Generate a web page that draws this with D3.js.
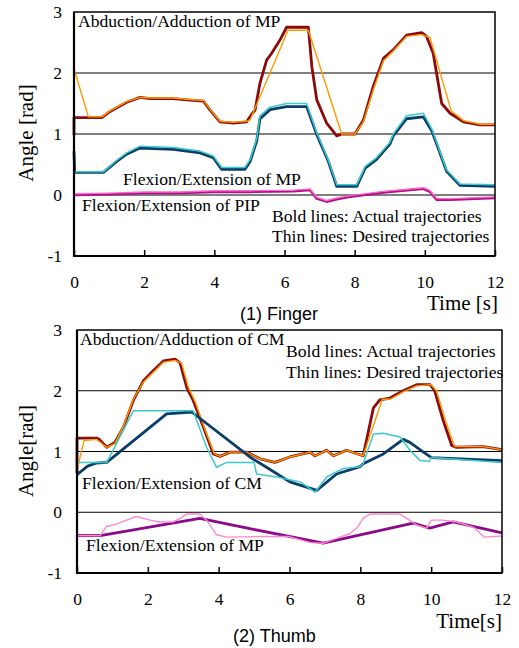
<!DOCTYPE html>
<html>
<head>
<meta charset="utf-8">
<script src="https://cdn.jsdelivr.net/npm/d3@7"></script>
<style>
  body { margin: 0; background: #fff; }
  svg text { font-family: "Liberation Serif", "Times New Roman", serif; fill: #000; }
  svg text.caption { font-family: "Liberation Sans", Arial, sans-serif; }
</style>
</head>
<body>
<svg id="chart" width="519" height="648"></svg>
<script>
(function() {
  'use strict';

  var timeTicks = [0, 2, 4, 6, 8, 10, 12];
  var angleTicks = [-1, 0, 1, 2, 3];
  var gridValues = [0, 1, 2];

  // (1) Finger: [time s, angle rad]
  var fingerAbdActual = [[0,0.98],[0,1.27],[0.4,1.27],[0.79,1.27],[1.03,1.37],[1.5,1.52],[1.88,1.6],[2.17,1.58],
    [2.83,1.58],[3.21,1.56],[3.69,1.54],[3.88,1.39],[4.16,1.2],[4.54,1.18],[4.92,1.2],[5.06,1.32],[5.16,1.39],
    [5.3,1.83],[5.49,2.21],[5.63,2.32],[5.87,2.54],[6.06,2.75],[6.68,2.75],[6.78,2.1],[6.92,1.56],[7.2,1.18],
    [7.49,0.97],[7.63,1.0],[8.01,1.0],[8.25,1.23],[8.53,1.78],[8.82,2.24],[9.1,2.38],[9.48,2.62],[9.91,2.66],
    [10.05,2.6],[10.24,2.32],[10.48,1.5],[10.72,1.34],[11.1,1.2],[11.57,1.15],[12,1.15]];
  var fingerAbdDesired = [[0,2.07],[0.41,1.28],[0.79,1.28],[1.03,1.38],[1.5,1.53],[1.88,1.6],[2.17,1.59],
    [2.83,1.59],[3.21,1.57],[3.69,1.55],[3.88,1.4],[4.16,1.21],[4.54,1.19],[4.92,1.21],[5.02,1.23],[6.1,2.7],
    [6.68,2.7],[7.63,1.0],[8.01,1.0],[8.25,1.2],[8.53,1.72],[8.82,2.2],[9.1,2.36],[9.48,2.6],[9.91,2.63],
    [10.15,2.58],[10.75,1.38],[11.1,1.22],[11.57,1.16],[12,1.16]];
  var fingerFlexActual = [[0,0.72],[0.02,0.37],[0.84,0.37],[1.22,0.55],[1.5,0.67],[1.88,0.77],[2.83,0.75],
    [3.59,0.69],[3.97,0.61],[4.21,0.42],[4.87,0.42],[5.02,0.55],[5.21,0.89],[5.3,1.25],[5.59,1.4],[6.06,1.45],
    [6.63,1.45],[6.92,0.99],[7.25,0.55],[7.49,0.14],[8.06,0.14],[8.3,0.44],[8.6,0.57],[9.0,0.83],[9.1,0.97],
    [9.48,1.25],[9.96,1.28],[10.2,1.05],[10.48,0.61],[10.62,0.39],[11.0,0.16],[12,0.14]];
  var fingerFlexDesired = [[0,0.15],[0,0.38],[0.84,0.38],[1.22,0.57],[1.5,0.69],[1.88,0.8],[2.83,0.78],
    [3.59,0.72],[3.97,0.64],[4.21,0.45],[4.87,0.45],[5.02,0.58],[5.21,0.92],[5.3,1.3],[5.59,1.44],[6.06,1.5],
    [6.63,1.5],[6.92,1.02],[7.25,0.57],[7.49,0.17],[8.06,0.17],[8.3,0.47],[8.6,0.6],[9.0,0.86],[9.1,1.0],
    [9.48,1.3],[9.96,1.34],[10.2,1.08],[10.48,0.63],[10.62,0.41],[11.0,0.18],[12,0.17]];
  var fingerPipActual = [[0,0.0],[1,0.01],[2,0.03],[3,0.03],[4,0.05],[5,0.05],[6.25,0.06],[6.73,0.08],
    [6.92,-0.06],[7.2,-0.11],[7.49,-0.07],[7.87,-0.03],[8.82,0.04],[9.96,0.1],[10.15,0.05],[10.34,-0.08],
    [10.72,-0.08],[12,-0.05]];
  var fingerPipDesired = [[0,0.02],[1,0.03],[2,0.05],[3,0.05],[4,0.07],[5,0.07],[6.25,0.08],[6.73,0.1],
    [6.92,-0.04],[7.2,-0.09],[7.49,-0.05],[7.87,-0.01],[8.82,0.06],[9.96,0.12],[10.15,0.07],[10.34,-0.06],
    [10.72,-0.06],[12,-0.03]];

  // (2) Thumb
  var thumbAbdActual = [[0,0.64],[0,1.22],[0.55,1.22],[0.63,1.2],[0.84,1.07],[1.07,1.15],[1.31,1.4],[1.59,1.84],
    [1.87,2.16],[2.15,2.33],[2.44,2.49],[2.77,2.52],[2.91,2.46],[3.1,2.05],[3.28,1.84],[3.57,1.4],[3.85,0.96],
    [4.04,0.92],[4.32,0.99],[4.79,0.99],[5.17,0.88],[5.59,0.82],[6.01,0.91],[6.58,0.99],[6.72,0.93],[7.05,1.02],
    [7.24,0.93],[7.61,1.02],[8.08,0.93],[8.37,1.72],[8.55,1.85],[8.84,1.88],[9.21,2.0],[9.59,2.1],[9.97,2.1],
    [10.1,2.0],[10.34,1.51],[10.58,1.1],[10.7,1.07],[11.47,1.08],[12,1.03]];
  var thumbAbdDesired = [[0,0.7],[0.2,1.18],[0.55,1.2],[0.84,1.07],[1.07,1.13],[1.31,1.42],[1.59,1.86],
    [1.87,2.14],[2.15,2.3],[2.44,2.47],[2.77,2.5],[2.95,2.46],[3.15,2.05],[3.35,1.8],[3.62,1.35],[3.88,0.96],
    [4.04,0.92],[4.32,0.99],[4.79,0.99],[5.17,0.88],[5.59,0.82],[6.01,0.91],[6.58,0.99],[6.72,0.93],[7.05,1.02],
    [7.24,0.93],[7.61,1.02],[8.08,0.93],[8.62,1.86],[8.84,1.86],[9.21,1.98],[9.59,2.08],[10.0,2.1],[10.15,2.0],
    [10.42,1.48],[10.66,1.08],[11.47,1.08],[12,1.03]];
  var thumbFlexActual = [[0,0.62],[0.3,0.76],[0.55,0.81],[0.84,0.82],[2.53,1.62],[3.24,1.65],[4.88,0.91],
    [5.35,0.74],[6.01,0.5],[6.77,0.36],[7.33,0.63],[7.99,0.75],[8.08,0.8],[8.65,0.96],[9.21,1.2],[9.4,1.15],
    [9.78,0.99],[10.01,0.9],[12,0.85]];
  var thumbFlexDesired = [[0,0.25],[0,0.82],[0.84,0.82],[1.59,1.67],[3.28,1.67],[3.66,1.07],[3.94,0.74],
    [4.23,0.82],[5.0,0.82],[5.07,0.63],[5.64,0.58],[6.3,0.5],[6.72,0.33],[7.05,0.58],[7.52,0.72],[7.99,0.75],
    [8.08,0.8],[8.37,1.29],[8.65,1.3],[9.12,1.24],[9.4,1.02],[9.69,0.85],[9.95,0.84],[10.0,0.9],[10.5,0.88],
    [12,0.82]];
  var thumbMpActual = [[0,-0.38],[0.7,-0.38],[3.47,-0.1],[4.88,-0.27],[6.1,-0.41],[6.95,-0.51],[9.49,-0.18],
    [9.96,-0.26],[10.62,-0.16],[12,-0.34]];
  var thumbMpDesired = [[0,0],[0,-0.38],[0.66,-0.38],[0.84,-0.23],[1.1,-0.2],[1.4,-0.13],[1.68,-0.07],
    [2.06,-0.13],[2.34,-0.16],[2.72,-0.16],[2.91,-0.1],[3.1,-0.03],[3.47,-0.03],[3.66,-0.13],[3.94,-0.37],
    [4.23,-0.41],[5.17,-0.4],[6.0,-0.4],[6.58,-0.5],[6.95,-0.51],[7.33,-0.43],[7.71,-0.35],[7.9,-0.26],
    [8.08,-0.1],[8.27,-0.03],[9.12,-0.03],[9.31,-0.1],[9.59,-0.21],[9.87,-0.26],[10.01,-0.13],[10.34,-0.13],
    [10.72,-0.16],[11.21,-0.25],[11.5,-0.41],[12,-0.39]];

  var svg = d3.select('#chart'),
    serif = '"Liberation Serif", "Times New Roman", serif';

  function drawPanel(p) {
    var x = d3.scaleLinear().domain([0, 12]).range([p.left, p.right]),
      y = d3.scaleLinear().domain([-1, 3]).range([p.bottom, p.top]),
      g = svg.append('g');

    g.selectAll('line.grid').data(gridValues).enter().append('line')
      .attr('class', 'grid')
      .attr('x1', p.left).attr('x2', p.right)
      .attr('y1', function(d) { return y(d); })
      .attr('y2', function(d) { return y(d); })
      .attr('stroke', '#000').attr('stroke-width', 1);

    var line = d3.line()
      .x(function(d) { return x(d[0]); })
      .y(function(d) { return y(d[1]); });

    p.series.forEach(function(s) {
      g.append('path').datum(s.data)
        .attr('d', line)
        .attr('fill', 'none')
        .attr('stroke', s.color)
        .attr('stroke-width', s.width)
        .attr('stroke-linejoin', 'round');
    });

    var fmt = function(d) { return String(d); };
    var xAxis = g.append('g')
      .attr('transform', 'translate(0,' + p.bottom + ')')
      .call(d3.axisBottom(x).tickValues(timeTicks).tickFormat(fmt)
        .tickSizeInner(-6).tickSizeOuter(0).tickPadding(20));
    var yAxis = g.append('g')
      .attr('transform', 'translate(' + p.left + ',0)')
      .call(d3.axisLeft(y).tickValues(angleTicks).tickFormat(fmt).tickSize(0).tickPadding(p.yPad));

    [xAxis, yAxis].forEach(function(a) {
      a.attr('font-family', serif).attr('font-size', 17.5);
      a.selectAll('.tick text').style('font-family', serif).attr('fill', '#000');
      a.select('.domain').remove();
      a.selectAll('.tick line').attr('stroke', '#000').attr('stroke-width', 1.5);
    });

    // frame
    g.append('rect')
      .attr('x', p.left).attr('y', p.top)
      .attr('width', p.right - p.left).attr('height', p.bottom - p.top)
      .attr('fill', 'none').attr('stroke', '#000').attr('stroke-width', 1.5);
    g.append('path')
      .attr('d', 'M' + p.left + ',' + p.top + 'V' + p.bottom + 'H' + p.right)
      .attr('fill', 'none').attr('stroke', '#000').attr('stroke-width', 2.2);

    p.labels.forEach(function(l) {
      g.append('text')
        .attr('class', l.cls || null)
        .attr('x', l.x).attr('y', l.y)
        .attr('font-size', l.size)
        .attr('text-anchor', l.anchor || 'start')
        .attr('transform', l.rotate ? 'rotate(-90,' + l.x + ',' + l.y + ')' : null)
        .text(l.text);
    });
  }

  drawPanel({
    left: 74, right: 495, top: 12, bottom: 256, yPad: 12,
    series: [
      { data: fingerAbdActual, color: '#8b0a0a', width: 2.8 },
      { data: fingerAbdDesired, color: '#ff9900', width: 1.4 },
      { data: fingerFlexActual, color: '#0b3d6b', width: 2.8 },
      { data: fingerFlexDesired, color: '#3cc8cc', width: 1.5 },
      { data: fingerPipActual, color: '#b0108a', width: 2.4 },
      { data: fingerPipDesired, color: '#ff66cc', width: 1.4 }
    ],
    labels: [
      { text: 'Abduction/Adduction of MP', x: 78, y: 27, size: 17.6 },
      { text: 'Flexion/Extension of MP', x: 123, y: 185, size: 17.6 },
      { text: 'Flexion/Extension of PIP', x: 82, y: 211, size: 17.6 },
      { text: 'Bold lines: Actual trajectories', x: 272, y: 222, size: 17.6 },
      { text: 'Thin lines: Desired trajectories', x: 272, y: 242, size: 17.6 },
      { text: 'Time [s]', x: 498, y: 310, size: 21, anchor: 'end' },
      { text: '(1) Finger', x: 240, y: 320, size: 18, cls: 'caption' },
      { text: 'Angle [rad]', x: 33, y: 133, size: 21, anchor: 'middle', rotate: true }
    ]
  });

  drawPanel({
    left: 77, right: 502, top: 330, bottom: 573, yPad: 15,
    series: [
      { data: thumbAbdActual, color: '#8b0a0a', width: 2.8 },
      { data: thumbAbdDesired, color: '#ff9900', width: 1.4 },
      { data: thumbFlexActual, color: '#0b3d6b', width: 2.8 },
      { data: thumbFlexDesired, color: '#3cc8cc', width: 1.5 },
      { data: thumbMpActual, color: '#8a0a8a', width: 2.8 },
      { data: thumbMpDesired, color: '#ff88cc', width: 1.4 }
    ],
    labels: [
      { text: 'Abduction/Adduction of CM', x: 80, y: 345, size: 17.6 },
      { text: 'Bold lines: Actual trajectories', x: 286, y: 357, size: 17.6 },
      { text: 'Thin lines: Desired trajectories', x: 286, y: 378, size: 17.6 },
      { text: 'Flexion/Extension of CM', x: 82, y: 489, size: 17.6 },
      { text: 'Flexion/Extension of MP', x: 86, y: 551, size: 17.6 },
      { text: 'Time[s]', x: 502, y: 628, size: 21, anchor: 'end' },
      { text: '(2) Thumb', x: 233, y: 642, size: 18, cls: 'caption' },
      { text: 'Angle[rad]', x: 33, y: 451, size: 21, anchor: 'middle', rotate: true }
    ]
  });
})();
</script>
</body>
</html>
